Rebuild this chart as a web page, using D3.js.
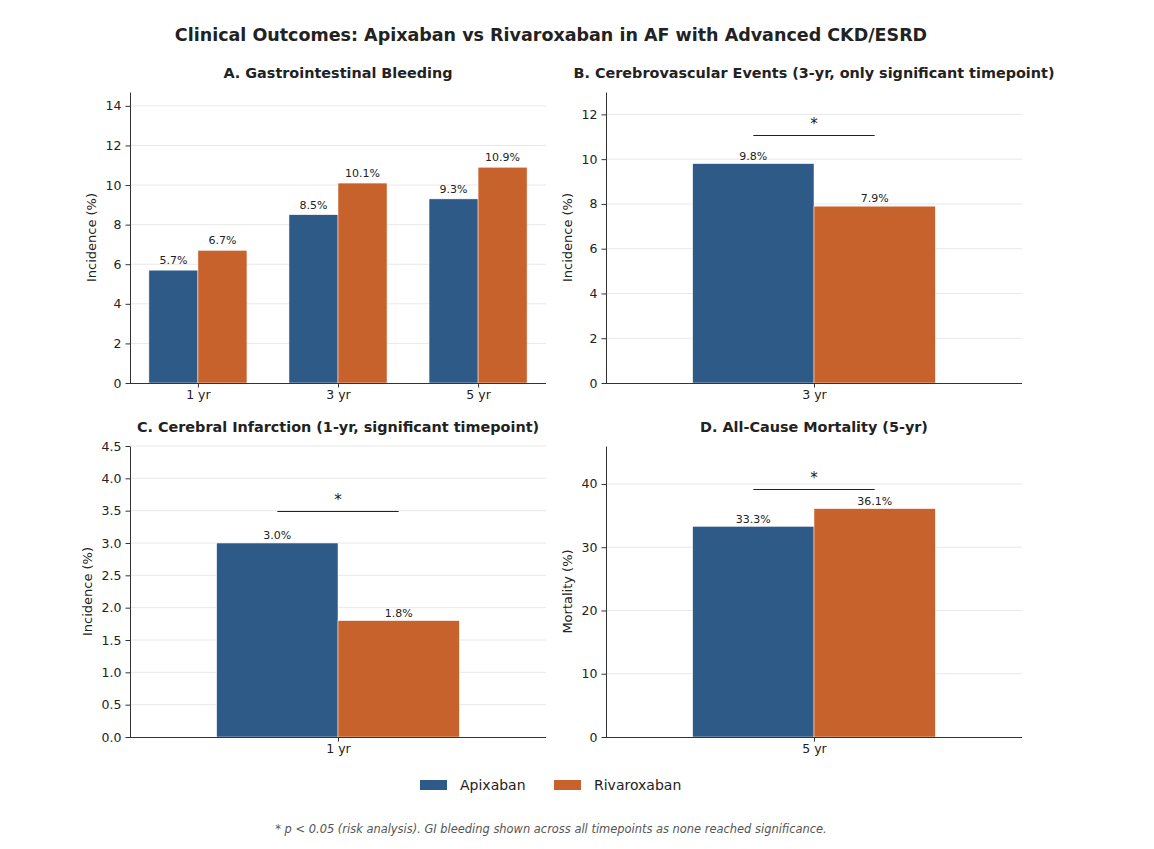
<!DOCTYPE html>
<html>
<head>
<meta charset="utf-8">
<script src="https://cdn.jsdelivr.net/npm/d3@7"></script>
<style>
  body { margin: 0; background: #fff; }
  svg text { font-family: "DejaVu Sans", sans-serif; fill: #222; }
</style>
</head>
<body>
<div id="vizDiv"></div>
<script>
var width = 1154, height = 849

// data
var giYears = ["1 yr", "3 yr", "5 yr"]
var giApixaban = [5.7, 8.5, 9.3]
var giRivaroxaban = [6.7, 10.1, 10.9]

var cvYears = ["3 yr"]
var cvApixaban = [9.8]
var cvRivaroxaban = [7.9]

var ciYears = ["1 yr"]
var ciApixaban = [3.0]
var ciRivaroxaban = [1.8]

var mortYears = ["5 yr"]
var mortApixaban = [33.3]
var mortRivaroxaban = [36.1]

var seriesNames = ["Apixaban", "Rivaroxaban"]
var colors = ["#2e5a87", "#c8622c"]

var svg = d3.select("#vizDiv")
  .append("svg")
  .attr("width", width)
  .attr("height", height)

svg.append("text")
  .attr("x", 551).attr("y", 41)
  .attr("text-anchor", "middle")
  .style("font-size", "17.5px").style("font-weight", "bold")
  .text("Clinical Outcomes: Apixaban vs Rivaroxaban in AF with Advanced CKD/ESRD")

// one entry per subplot
var panels = [
  { left: 130, top: 92, title: "A. Gastrointestinal Bleeding", ylabel: "Incidence (%)",
    cats: giYears, a: giApixaban, r: giRivaroxaban, ymax: 14.7, ticks: d3.range(0, 15, 2), fmt: d3.format("d"),
    xdom: [-0.485, 2.485], sig: null, labPad: 6, ylabX: -34.5 },
  { left: 606, top: 92, title: "B. Cerebrovascular Events (3-yr, only significant timepoint)", ylabel: "Incidence (%)",
    cats: cvYears, a: cvApixaban, r: cvRivaroxaban, ymax: 13.0, ticks: d3.range(0, 13, 2), fmt: d3.format("d"),
    xdom: [-0.6, 0.6], sig: 11.1, labPad: 3.7, ylabX: -34.5 },
  { left: 130, top: 446, title: "C. Cerebral Infarction (1-yr, significant timepoint)", ylabel: "Incidence (%)",
    cats: ciYears, a: ciApixaban, r: ciRivaroxaban, ymax: 4.5, ticks: d3.range(0, 4.51, 0.5), fmt: d3.format(".1f"),
    xdom: [-0.6, 0.6], sig: 3.5, labPad: 3.7, ylabX: -38.5 },
  { left: 606, top: 446, title: "D. All-Cause Mortality (5-yr)", ylabel: "Mortality (%)",
    cats: mortYears, a: mortApixaban, r: mortRivaroxaban, ymax: 46, ticks: d3.range(0, 41, 10), fmt: d3.format("d"),
    xdom: [-0.6, 0.6], sig: 39.2, labPad: 3.7, ylabX: -34.5 }
]
var pw = 416, ph = 291, barW = 0.35

panels.forEach(function (p) {
  var g = svg.append("g").attr("transform", "translate(" + p.left + "," + p.top + ")")
  var x = d3.scaleLinear().domain(p.xdom).range([0, pw])
  var y = d3.scaleLinear().domain([0, p.ymax]).range([ph, 0])

  // grid
  g.selectAll(".grid").data(p.ticks.filter(function (t) { return t > 0 }))
    .enter().append("line")
    .attr("x1", 0).attr("x2", pw)
    .attr("y1", function (d) { return y(d) }).attr("y2", function (d) { return y(d) })
    .attr("stroke", "#e8e8e8").attr("stroke-width", 1)

  // bars + value labels
  var series = [p.a, p.r]
  series.forEach(function (vals, s) {
    var off = s === 0 ? -barW : 0
    g.selectAll(".bar" + s).data(vals).enter().append("rect")
      .attr("x", function (d, i) { return x(i + off) })
      .attr("width", x(barW) - x(0))
      .attr("y", function (d) { return y(d) })
      .attr("height", function (d) { return ph - y(d) })
      .attr("fill", colors[s])
      .attr("stroke", "#fff").attr("stroke-width", 0.5)

    g.selectAll(".lab" + s).data(vals).enter().append("text")
      .attr("x", function (d, i) { return x(i + off + barW / 2) })
      .attr("y", function (d) { return y(d) - p.labPad })
      .attr("text-anchor", "middle")
      .style("font-size", "11px")
      .text(function (d) { return d.toFixed(1) + "%" })
  })

  // significance bracket (snapped to pixel so it stays crisp)
  if (p.sig !== null) {
    var sy = Math.round(y(p.sig)) + 0.5
    g.append("line")
      .attr("x1", x(-barW / 2)).attr("x2", x(barW / 2))
      .attr("y1", sy).attr("y2", sy)
      .attr("stroke", "#222").attr("stroke-width", 1)
    g.append("text")
      .attr("x", x(0)).attr("y", sy - 6.5)
      .attr("text-anchor", "middle")
      .style("font-size", "15px")
      .text("*")
  }

  // axes
  var yAxis = d3.axisLeft(y).tickValues(p.ticks).tickFormat(p.fmt).tickSize(4.5).tickPadding(4)
  var gy = g.append("g").call(yAxis)
  gy.select(".domain").attr("d", "M0.5," + ph + "V0.5").attr("stroke", "#333")
  gy.selectAll(".tick line").attr("stroke", "#333")
  gy.selectAll(".tick text").style("font-size", "12.5px").style("font-family", "DejaVu Sans").attr("fill", "#222")

  var xAxis = d3.axisBottom(x).tickValues(d3.range(p.cats.length)).tickFormat(function (i) { return p.cats[i] }).tickSize(4.5).tickPadding(3)
  var gx = g.append("g").attr("transform", "translate(0," + ph + ")").call(xAxis)
  gx.select(".domain").attr("d", "M0,0.5H" + pw).attr("stroke", "#333")
  gx.selectAll(".tick line").attr("stroke", "#333")
  gx.selectAll(".tick text").style("font-size", "12.5px").style("font-family", "DejaVu Sans").attr("fill", "#222")

  // axis label and subplot title
  g.append("text")
    .attr("transform", "translate(" + p.ylabX + "," + (ph / 2) + ") rotate(-90)")
    .attr("text-anchor", "middle")
    .style("font-size", "13px")
    .text(p.ylabel)

  g.append("text")
    .attr("x", pw / 2).attr("y", -14)
    .attr("text-anchor", "middle")
    .style("font-size", "14.4px").style("font-weight", "bold")
    .text(p.title)
})

// legend
var legend = svg.append("g")
var legX = [420, 554]
seriesNames.forEach(function (name, s) {
  legend.append("rect")
    .attr("x", legX[s]).attr("y", 780)
    .attr("width", 27).attr("height", 10)
    .attr("fill", colors[s])
  legend.append("text")
    .attr("x", legX[s] + 40).attr("y", 790)
    .style("font-size", "14px")
    .text(name)
})

svg.append("text")
  .attr("x", 551).attr("y", 833)
  .attr("text-anchor", "middle")
  .style("font-size", "11.45px").style("font-style", "italic")
  .style("fill", "#555")
  .text("* p < 0.05 (risk analysis). GI bleeding shown across all timepoints as none reached significance.")
</script>
</body>
</html>
